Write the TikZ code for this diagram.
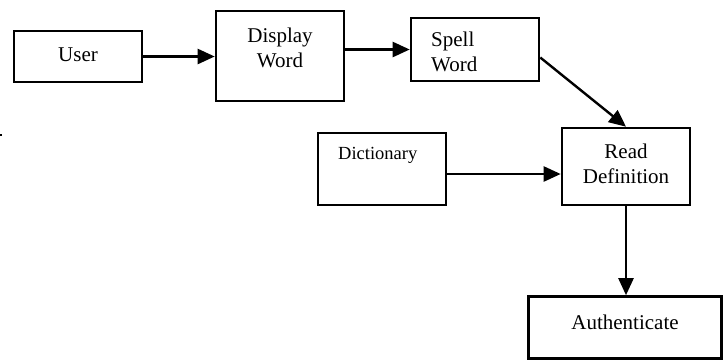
\documentclass[tikz,border=0pt]{standalone}
\usepackage{fontspec}
\setmainfont{Liberation Serif}
\usetikzlibrary{arrows.meta}

\tikzset{
	box/.style={draw, line width=2.6pt, minimum width=128pt, inner sep=0pt},
	lbl/.style={font=\fontsize{21}{25}\selectfont, align=center, inner sep=0pt},
	arr/.style={line width=2.4pt, -{Triangle[length=17pt,width=15pt]}}
}

\begin{document}
\begin{tikzpicture}[x=1pt,y=-1pt]
			\useasboundingbox (0,0) rectangle (728,360);

			\node[box, minimum height=51pt] (user) at (78,56.5) {};
			\node[box, minimum height=90pt] (disp) at (280,56) {};
			\node[box, minimum height=63pt] (spell) at (475,49.5) {};
			\node[box, minimum height=72pt] (dict) at (382,169) {};
			\node[box, minimum height=77pt] (read) at (626,166.5) {};
			\node[box, minimum width=193pt, minimum height=62pt] (auth) at (625,327.5) {};

			\node[lbl] (userT) at (78,55) {User};
			\node[lbl] (dispT) at (280,48) {Display\\Word};
			\node[lbl, anchor=west, align=left] (spellT) at (431,52) {Spell\\Word};
			\node[lbl, anchor=west, font=\fontsize{18.5}{22}\selectfont] (dictT) at (338,155) {Dictionary};
			\node[lbl] (readT) at (626,164) {Read\\Definition};
			\node[lbl] (authT) at (625,322) {Authenticate};

			\fill (0,134) rectangle (2,136);

			\draw[arr] (user.east) -- (user.east -| disp.west);
			\draw[arr] (disp.east |- spell.west) -- (spell.west);
			\draw[arr] (spell.-7) -- (read.north);
			\draw[arr] ([yshift=-5pt]dict.east) -- ([yshift=-7.5pt]read.west);
			\draw[arr] (read.south) -- (read.south |- auth.north);
\end{tikzpicture}
\end{document}
